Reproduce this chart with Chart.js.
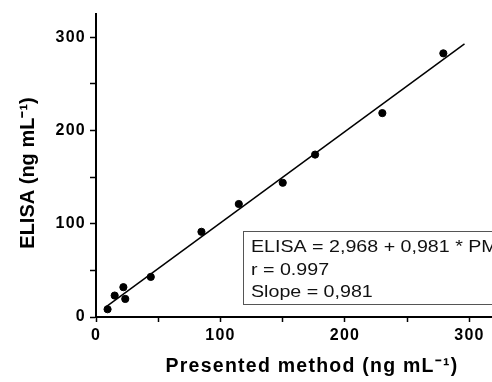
<!DOCTYPE html>
<html>
<head>
<meta charset="utf-8">
<script src="https://cdn.jsdelivr.net/npm/chart.js@4.4.0/dist/chart.umd.min.js"></script>
<style>
  html, body { margin: 0; padding: 0; background: #fff; overflow: hidden; }
  #wrap { width: 540px; height: 382px; }
</style>
</head>
<body>
<div id="wrap"><canvas id="myChart"></canvas></div>
<script>
// values
const presented = [9.3, 15, 22, 23.5, 44, 84.7, 114.7, 150, 176, 230, 279]
const elisa = [8.3, 23, 32, 19.4, 43, 91.4, 121.2, 144, 174.2, 218.7, 282.8]
const fitX = [8, 296]
const fitY = [10.8, 293]
const fitText = ['ELISA = 2,968 + 0,981 * PM', 'r = 0.997', 'Slope = 0,981']
const xTitle = 'Presented method (ng mL\u207B\u00B9)'
const yTitle = 'ELISA (ng mL\u207B\u00B9)'

const font = '"Liberation Sans", Arial, sans-serif'

// the original figure text is a bit wide, spread the letters a little
const wideText = {
    id: 'wideText',
    beforeDraw(chart) {
        chart.ctx.letterSpacing = '1.25px'
    }
}

// y axis title, placed a bit lower than the chart area's middle like the original
const yTitlePlugin = {
    id: 'yTitle',
    afterDraw(chart) {
        const c = chart.ctx
        c.save()
        c.letterSpacing = '0px'
        c.translate(34, 173)
        c.rotate(-Math.PI / 2)
        c.font = 'bold 20px ' + font
        c.fillStyle = '#000'
        c.textAlign = 'center'
        c.textBaseline = 'alphabetic'
        c.fillText(yTitle, 0, 0)
        c.restore()
    }
}

// box with the fit equation
const fitBox = {
    id: 'fitBox',
    afterDraw(chart) {
        const c = chart.ctx
        const left = 243, top = 231
        c.save()
        c.letterSpacing = '0px'
        c.strokeStyle = '#555'
        c.lineWidth = 1
        c.strokeRect(left + 0.5, top + 0.5, 300, 73)
        c.font = '16.5px ' + font
        c.fillStyle = '#111'
        c.textBaseline = 'alphabetic'
        fitText.forEach((t, i) => {
            c.save()
            c.translate(left + 8, top + 21 + i * 22.5)
            c.scale(1.19, 1)
            c.fillText(t, 0, 0)
            c.restore()
        })
        c.restore()
    }
}

const ctx = document.getElementById('myChart').getContext('2d')
const myChart = new Chart(ctx, {
    type: 'scatter',
    data: {
        datasets: [{
            data: presented.map((x, i) => ({x: x, y: elisa[i]})),
            backgroundColor: '#000',
            borderColor: '#000',
            pointRadius: 3.6,
            pointHoverRadius: 3.6
        }, {
            data: fitX.map((x, i) => ({x: x, y: fitY[i]})),
            showLine: true,
            borderColor: '#000',
            borderWidth: 1.5,
            pointRadius: 0
        }]
    },
    options: {
        responsive: true,
        maintainAspectRatio: false,
        animation: false,
        layout: { padding: { top: 14, right: 12, left: 0, bottom: 0 } },
        plugins: { legend: { display: false }, tooltip: { enabled: false } },
        scales: {
            x: {
                min: 0,
                max: 347,
                afterFit: s => { s.height = 65 },
                afterBuildTicks: s => { s.ticks = [0, 50, 100, 150, 200, 250, 300].map(v => ({value: v})) },
                border: { color: '#000', width: 2 },
                grid: { drawOnChartArea: false, tickLength: 5, tickColor: '#000', tickWidth: 1.5 },
                ticks: {
                    color: '#000',
                    padding: 4,
                    maxRotation: 0,
                    font: { family: font, size: 16, weight: 'bold' },
                    callback: v => v % 100 === 0 ? v : ''
                },
                title: {
                    display: true,
                    text: xTitle,
                    color: '#000',
                    padding: { top: 10 },
                    font: { family: font, size: 19.5, weight: 'bold' }
                }
            },
            y: {
                min: 0,
                max: 325,
                afterFit: s => { s.width = 96 },
                afterBuildTicks: s => { s.ticks = [0, 50, 100, 150, 200, 250, 300].map(v => ({value: v})) },
                border: { color: '#000', width: 2 },
                grid: { drawOnChartArea: false, tickLength: 6, tickColor: '#000', tickWidth: 1.5 },
                ticks: {
                    color: '#000',
                    padding: 4,
                    font: { family: font, size: 16, weight: 'bold' },
                    callback: v => v % 100 === 0 ? v : ''
                }
            }
        }
    },
    plugins: [wideText, yTitlePlugin, fitBox]
})
</script>
</body>
</html>
